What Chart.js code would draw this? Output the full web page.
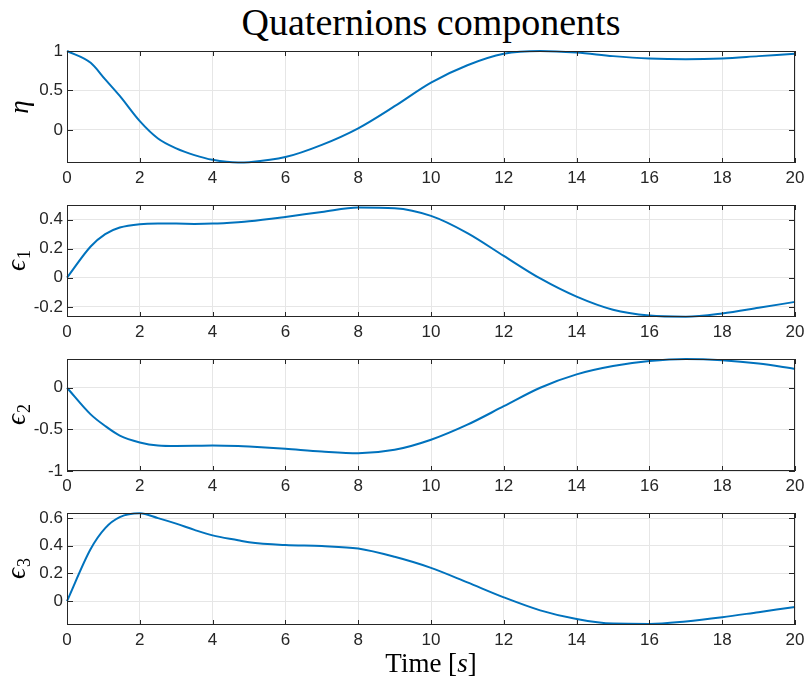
<!DOCTYPE html>
<html>
<head>
<meta charset="utf-8">
<script src="https://cdn.jsdelivr.net/npm/chart.js@4.4.0/dist/chart.umd.min.js"></script>
<style>
  body { margin: 0; background: #fff; width: 807px; height: 687px; position: relative; overflow: hidden; }
  canvas { position: absolute; left: 0; }
  #title { position: absolute; left: 67px; width: 728px; top: 2px; text-align: center;
           font: 38px "Liberation Serif", serif; color: #000; line-height: 40px; }
  #xlabel { position: absolute; left: 67px; width: 728px; top: 648px; text-align: center;
            font: 27px "Liberation Serif", serif; color: #000; line-height: 30px; }
</style>
</head>
<body>
<div id="title">Quaternions components</div>
<canvas id="c0" width="807" height="154"></canvas>
<canvas id="c1" width="807" height="154"></canvas>
<canvas id="c2" width="807" height="154"></canvas>
<canvas id="c3" width="807" height="154"></canvas>
<div id="xlabel">Time [<i>s</i>]</div>
<script>
// time samples [s]
var time = [0, 0.65, 1.05, 1.45, 2, 2.5, 3, 3.5, 4, 4.7, 5, 6, 7, 8, 9, 10, 11, 12, 13, 14, 15, 16, 17, 18, 19, 20];

// scalar part
var eta  = [1, 0.85, 0.64, 0.43, 0.11, -0.11, -0.235, -0.32, -0.38, -0.415, -0.41, -0.345, -0.19, 0.02, 0.3, 0.6,
            0.82, 0.965, 1.0, 0.98, 0.935, 0.905, 0.895, 0.905, 0.935, 0.965];
// vector part
var eps1 = [0, 0.215, 0.30, 0.345, 0.368, 0.372, 0.372, 0.37, 0.372, 0.382, 0.388, 0.418, 0.452, 0.483, 0.478, 0.425,
            0.307, 0.15, -0.005, -0.13, -0.22, -0.26, -0.268, -0.246, -0.207, -0.166];
var eps2 = [0, -0.32, -0.46, -0.575, -0.657, -0.694, -0.70, -0.698, -0.694, -0.7, -0.706, -0.734, -0.766, -0.786, -0.746, -0.625,
            -0.444, -0.222, 0, 0.16, 0.26, 0.32, 0.345, 0.33, 0.29, 0.225];
var eps3 = [0, 0.377, 0.528, 0.607, 0.635, 0.6, 0.56, 0.515, 0.475, 0.44, 0.425, 0.405, 0.398, 0.38, 0.32, 0.24,
            0.135, 0.027, -0.067, -0.13, -0.163, -0.165, -0.147, -0.117, -0.08, -0.043];

var xTicks = [0, 2, 4, 6, 8, 10, 12, 14, 16, 18, 20];
var etaTicks  = [0, 0.5, 1];
var eps1Ticks = [-0.2, 0, 0.2, 0.4];
var eps2Ticks = [-1, -0.5, 0];
var eps3Ticks = [0, 0.2, 0.4, 0.6];

var limits = [[-0.42, 1.0], [-0.27, 0.5], [-1, 0.345], [-0.173, 0.637]];
var plotTops = [51, 205, 359, 513];

var panels = [
  { values: eta,  ticks: etaTicks,  sym: 'η', sub: '' },
  { values: eps1, ticks: eps1Ticks, sym: 'ϵ', sub: '1' },
  { values: eps2, ticks: eps2Ticks, sym: 'ϵ', sub: '2' },
  { values: eps3, ticks: eps3Ticks, sym: 'ϵ', sub: '3' }
];

var axisColor = '#262626';

// box around the axes with inward ticks on all four sides
var boxTicks = {
  id: 'boxTicks',
  afterDatasetsDraw: function(chart) {
    var ctx = chart.ctx, a = chart.chartArea, x = chart.scales.x, y = chart.scales.y;
    ctx.save();
    ctx.strokeStyle = axisColor;
    ctx.lineWidth = 1;
    ctx.beginPath();
    x.ticks.forEach(function(t) {
      var px = Math.round(x.getPixelForValue(t.value)) + 0.5;
      ctx.moveTo(px, a.bottom); ctx.lineTo(px, a.bottom - 5);
      ctx.moveTo(px, a.top); ctx.lineTo(px, a.top + 5);
    });
    y.ticks.forEach(function(t) {
      var py = Math.round(y.getPixelForValue(t.value)) + 0.5;
      ctx.moveTo(a.left, py); ctx.lineTo(a.left + 6, py);
      ctx.moveTo(a.right, py); ctx.lineTo(a.right - 6, py);
    });
    ctx.stroke();
    ctx.strokeRect(Math.round(a.left) + 0.5, Math.round(a.top) + 0.5,
                   Math.round(a.width) - 1, Math.round(a.height) - 1);
    ctx.restore();
  }
};

// rotated y label with optional subscript
var yLabel = {
  id: 'yLabel',
  afterDraw: function(chart, args, opts) {
    var ctx = chart.ctx, a = chart.chartArea;
    ctx.save();
    ctx.translate(opts.cx, (a.top + a.bottom) / 2);
    ctx.rotate(-Math.PI / 2);
    ctx.fillStyle = '#000';
    ctx.textBaseline = 'alphabetic';
    ctx.font = 'italic 27px "Liberation Serif", serif';
    var w1 = ctx.measureText(opts.sym).width;
    ctx.font = '18px "Liberation Serif", serif';
    var w2 = opts.sub ? ctx.measureText(opts.sub).width : 0;
    var x0 = -(w1 + w2) / 2;
    ctx.font = 'italic 27px "Liberation Serif", serif';
    ctx.fillText(opts.sym, x0, 6);
    if (opts.sub) {
      ctx.font = '18px "Liberation Serif", serif';
      ctx.fillText(opts.sub, x0 + w1 + 1, 11);
    }
    ctx.restore();
  }
};

var tickFont = { family: '"Liberation Sans", Arial, sans-serif', size: 17, lineHeight: 1 };

panels.forEach(function(p, i) {
  var cv = document.getElementById('c' + i);
  cv.style.top = (plotTops[i] - 10) + 'px';
  var pts = time.map(function(t, k) { return { x: t, y: p.values[k] }; });
  new Chart(cv.getContext('2d'), {
    type: 'line',
    data: {
      datasets: [{
        data: pts,
        borderColor: '#0072BD',
        borderWidth: 2,
        pointRadius: 0,
        fill: false,
        cubicInterpolationMode: 'monotone',
        clip: 4
      }]
    },
    options: {
      responsive: false,
      animation: false,
      devicePixelRatio: 1,
      layout: { padding: { left: 0, right: 12, top: 10, bottom: 0 } },
      plugins: {
        legend: { display: false },
        tooltip: { enabled: false },
        yLabel: { sym: p.sym, sub: p.sub, cx: p.sub ? 19 : 22 }
      },
      scales: {
        x: {
          type: 'linear',
          min: 0, max: 20,
          afterBuildTicks: function(s) { s.ticks = xTicks.map(function(v) { return { value: v }; }); },
          afterFit: function(s) { s.height = 32; s.paddingLeft = 0; s.paddingRight = 0; },
          grid: { color: '#e6e6e6', drawTicks: false },
          border: { display: false },
          ticks: {
            padding: 7, color: axisColor, maxRotation: 0,
            font: tickFont,
            callback: function(v) { return String(v); }
          }
        },
        y: {
          type: 'linear',
          min: limits[i][0], max: limits[i][1],
          afterBuildTicks: function(s) { s.ticks = p.ticks.map(function(v) { return { value: v }; }); },
          afterFit: function(s) { s.width = 67; s.paddingTop = 0; s.paddingBottom = 0; },
          grid: { color: '#e6e6e6', drawTicks: false },
          border: { display: false },
          ticks: {
            padding: 4, color: axisColor,
            font: tickFont,
            callback: function(v) { return String(v); }
          }
        }
      }
    },
    plugins: [boxTicks, yLabel]
  });
});
</script>
</body>
</html>
